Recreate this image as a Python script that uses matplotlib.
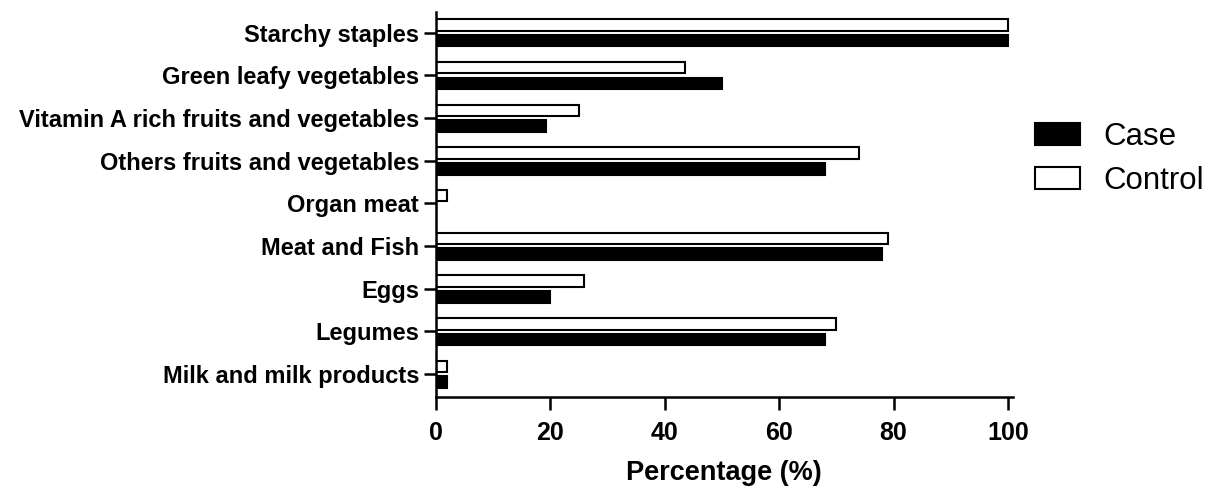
import matplotlib.pyplot as plt
import numpy as np

plt.rcParams['font.family'] = ['Liberation Sans', 'DejaVu Sans']

categories = ["Starchy staples", "Green leafy vegetables",
              "Vitamin A rich fruits and vegetables",
              "Others fruits and vegetables", "Organ meat", "Meat and Fish",
              "Eggs", "Legumes", "Milk and milk products"]
case = [100, 50, 19.2, 68, 0, 78, 20, 68, 2]
control = [100, 43.5, 25, 74, 2, 79, 26, 70, 2]

fig = plt.figure(figsize=(12.17, 4.94), dpi=100)
ax = fig.add_axes([0.358, 0.196, 0.474, 0.780])

y = np.arange(len(categories))
h = 0.27
ax.barh(y - 0.18, control, height=h, color='white', edgecolor='black',
        linewidth=1.5, label='Control')
ax.barh(y + 0.19, case, height=h, color='black', edgecolor='black',
        linewidth=1.5, label='Case')

ax.set_ylim(len(categories) - 1 + 0.54, -0.485)
ax.set_xlim(0, 100.8)
ax.set_yticks(y)
ax.set_yticklabels(categories, fontsize=17, fontweight='bold')
ax.set_xticks([0, 20, 40, 60, 80, 100])
ax.tick_params(axis='x', labelsize=18, width=1.8, length=9, pad=8)
ax.tick_params(axis='y', width=1.8, length=9, pad=3)
for t in ax.get_xticklabels():
    t.set_fontweight('bold')
ax.set_xlabel('Percentage (%)', fontsize=19.5, fontweight='bold', labelpad=11)

for s in ['top', 'right']:
    ax.spines[s].set_visible(False)
for s in ['left', 'bottom']:
    ax.spines[s].set_linewidth(1.8)

handles, labels = ax.get_legend_handles_labels()
fig.legend(handles[::-1], labels[::-1], loc='center left',
           bbox_to_anchor=(0.827, 0.679), frameon=False, fontsize=22.5,
           handlelength=1.45, handleheight=0.7, handletextpad=0.75,
           labelspacing=0.45)

fig.savefig('out.png', dpi=100)
